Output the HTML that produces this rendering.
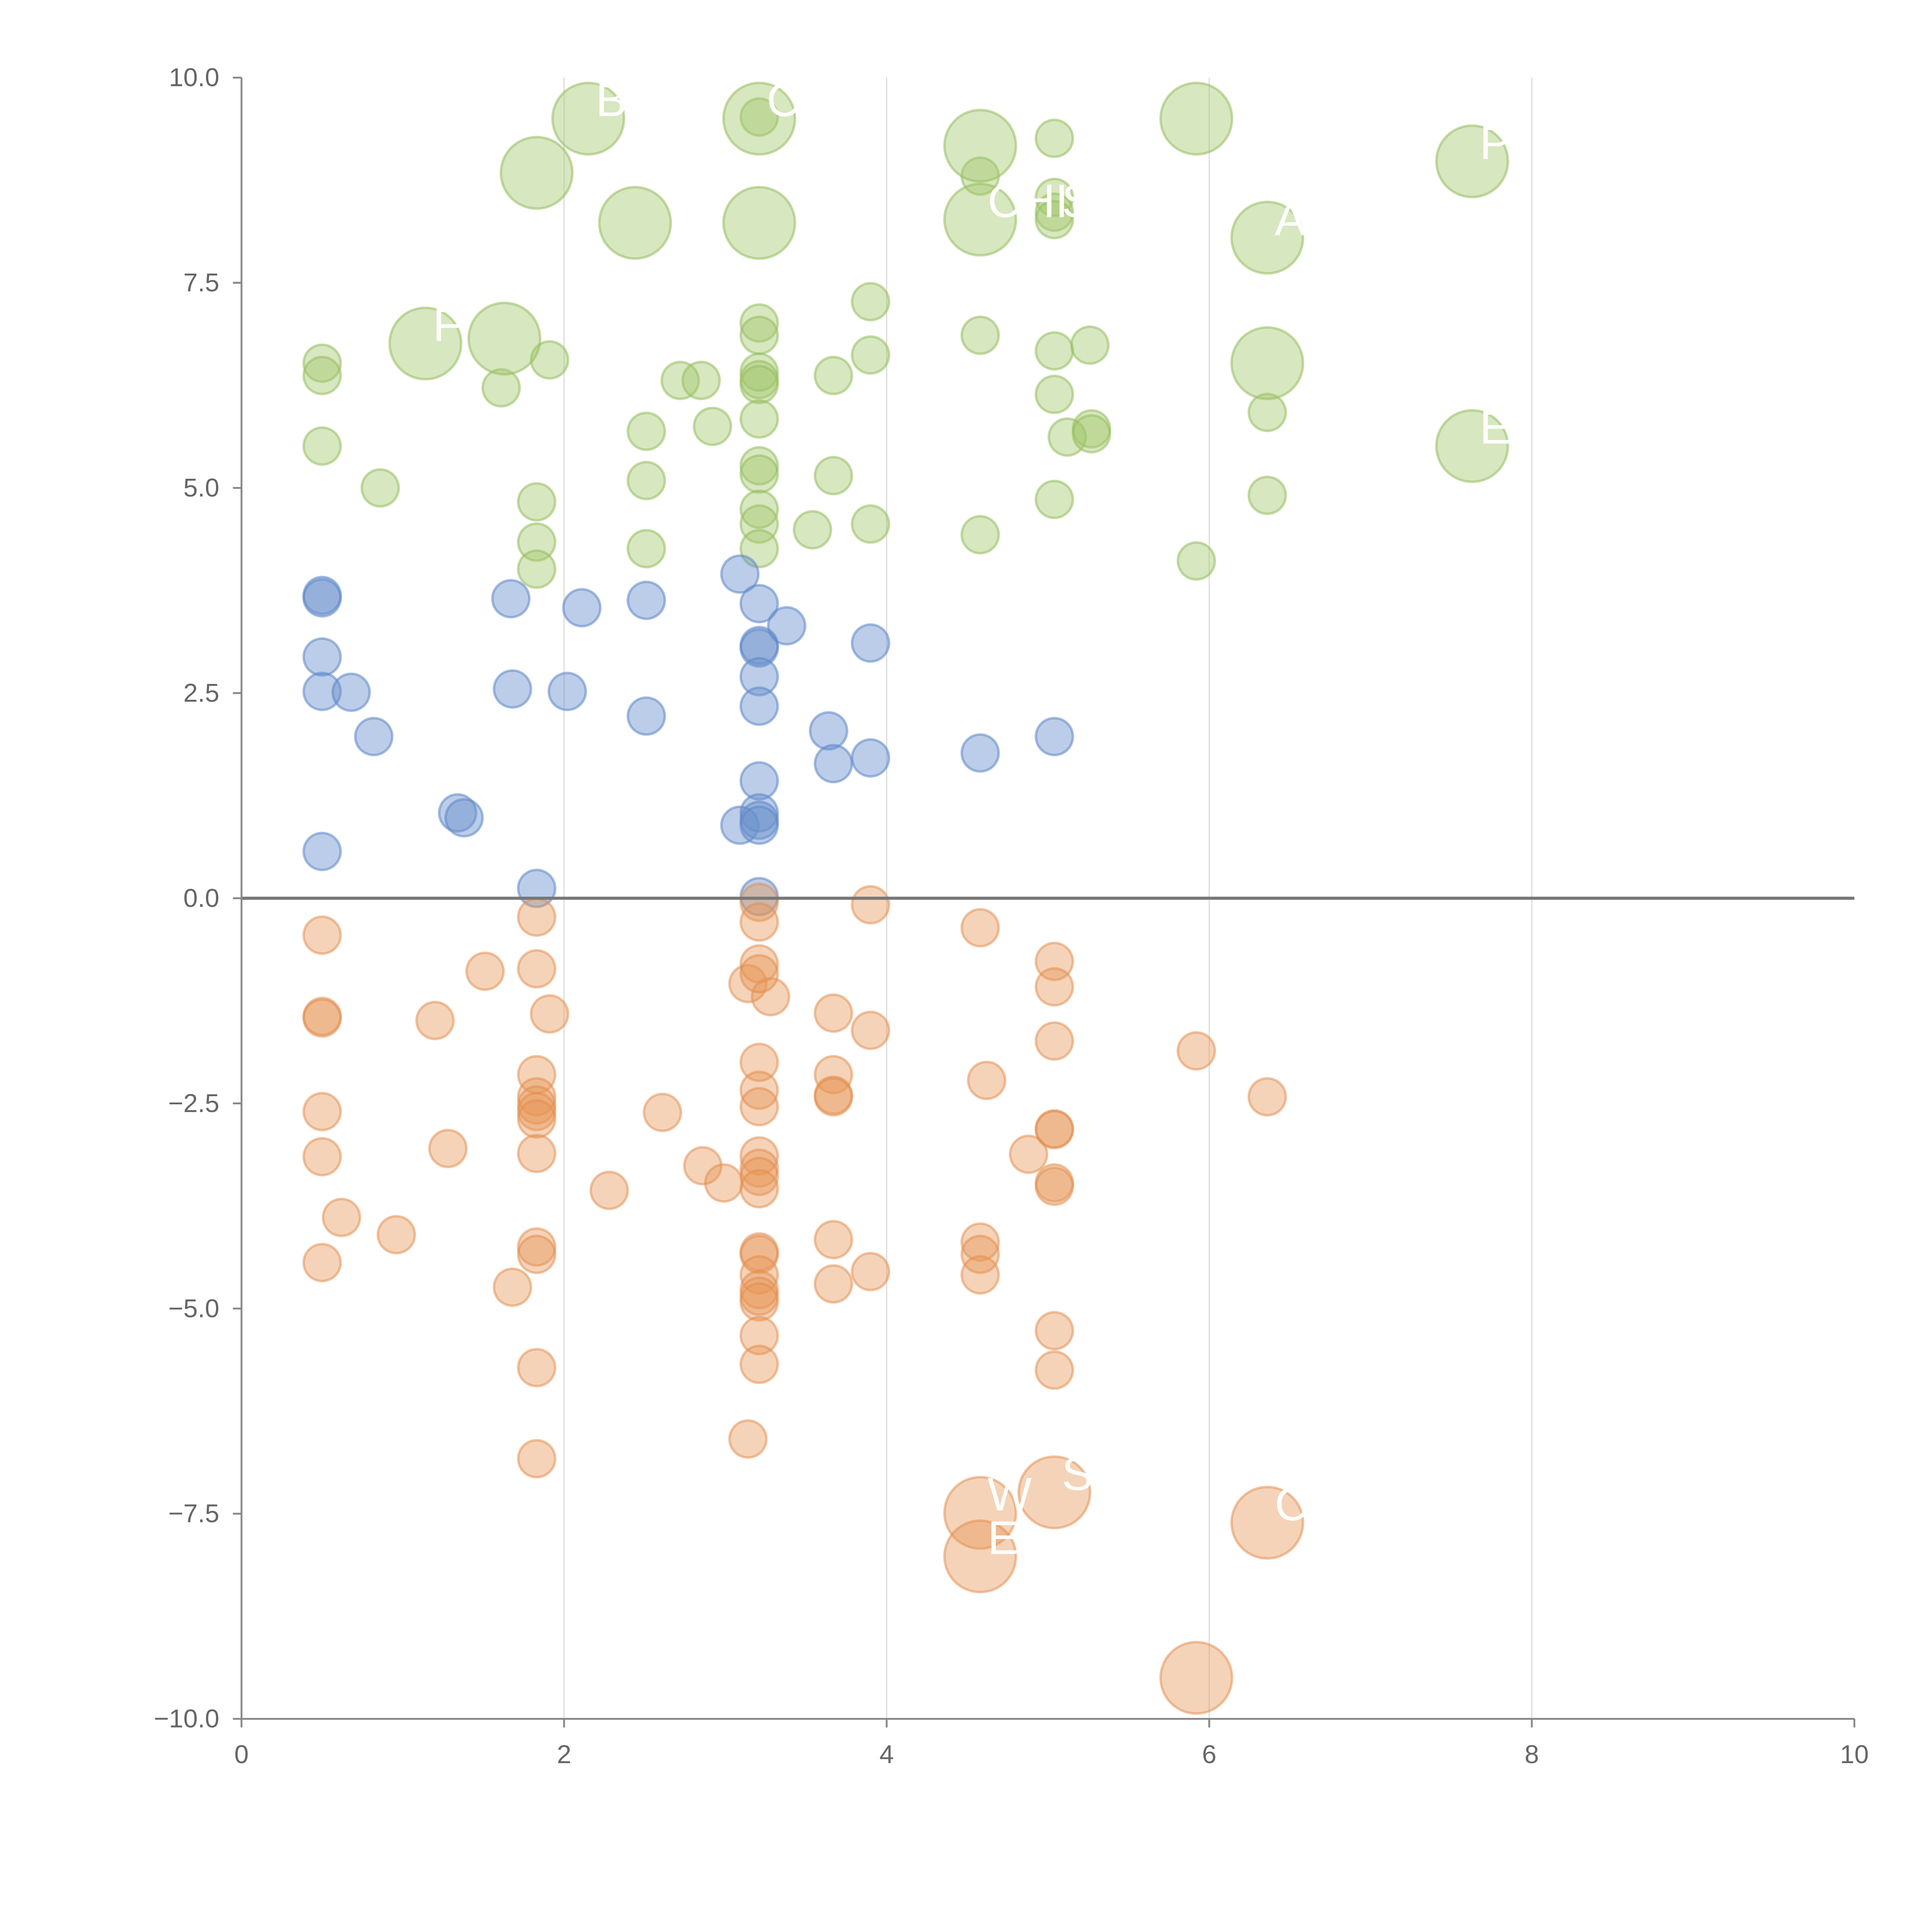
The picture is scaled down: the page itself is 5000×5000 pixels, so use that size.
<!DOCTYPE html>
<html><head><meta charset="utf-8"><style>
html,body{margin:0;padding:0;background:#fff}
svg{display:block}
text{font-family:"Liberation Sans",sans-serif}
</style></head><body>
<svg id="chart" width="5000" height="5000" viewBox="0 0 1568 1568" xmlns="http://www.w3.org/2000/svg">
<g id="grid"></g>
<g id="marks"></g>
<g id="axes"></g>
</svg>
<script>
const xTicks=[0,2,4,6,8,10];
const yTicks=[10,7.5,5,2.5,0,-2.5,-5,-7.5,-10];
const yTickLabels=["10.0","7.5","5.0","2.5","0.0","\u22122.5","\u22125.0","\u22127.5","\u221210.0"];

const greenX=[0.5,0.5,0.5,0.86,1.61,1.91,1.83,1.83,1.83,2.51,2.51,2.51,2.72,2.85,2.92,3.21,3.21,3.21,3.21,3.21,3.21,3.21,3.21,3.21,3.21,3.21,3.54,3.67,3.67,3.9,3.9,3.9,4.58,4.58,5.04,5.04,5.04,5.04,5.04,5.04,5.04,5.12,5.26,5.27,5.27,5.92,6.36,6.36,3.21,4.58];
const greenY=[6.52,6.37,5.51,5.0,6.22,6.56,4.83,4.34,4.01,5.69,5.09,4.26,6.31,6.31,5.75,7.01,6.86,6.41,6.32,6.26,5.84,5.27,5.17,4.74,4.56,4.26,4.49,6.37,5.15,7.27,6.62,4.56,6.86,4.43,9.26,8.54,8.36,8.27,6.67,6.14,4.86,5.62,6.74,5.72,5.66,4.11,5.92,4.91,9.52,8.8];
const greenBigX=[1.83,2.15,3.21,2.44,3.21,4.58,4.58,5.92,7.63,6.36,1.14,1.63,6.36,7.63];
const greenBigY=[8.84,9.5,9.5,8.23,8.23,9.17,8.27,9.5,8.98,8.05,6.76,6.82,6.52,5.51];

const blueX=[0.5,0.5,0.5,0.5,0.68,0.82,1.67,1.68,2.11,2.02,2.51,2.51,3.09,3.21,3.38,3.21,3.21,3.21,3.21,3.9,3.64,3.67,3.9,4.58,5.04,1.34,1.38,0.5,3.21,3.09,3.21,3.21,3.21,1.83,3.21];
const blueY=[3.69,3.66,2.94,2.52,2.51,1.97,3.65,2.55,3.54,2.52,3.63,2.22,3.95,3.59,3.32,3.08,3.05,2.7,2.34,3.11,2.04,1.64,1.71,1.77,1.97,1.04,0.98,0.57,1.43,0.89,1.04,0.95,0.89,0.12,0.02];

const orangeX=[0.5,0.5,0.5,0.5,0.5,0.62,0.5,0.96,1.2,1.51,1.28,1.68,1.83,1.83,1.91,1.83,1.83,1.83,1.83,1.83,1.83,1.83,1.83,1.83,1.83,2.28,2.61,2.86,2.99,3.14,3.28,3.21,3.21,3.21,3.21,3.21,3.21,3.21,3.21,3.21,3.21,3.21,3.21,3.21,3.21,3.21,3.21,3.21,3.21,3.21,3.14,3.9,3.9,3.67,3.67,3.67,3.67,3.67,3.67,3.9,4.58,4.62,4.88,5.04,5.04,5.04,5.04,5.04,5.04,5.04,5.04,5.04,4.58,4.58,4.58,5.92,6.36];
const orangeY=[-0.45,-1.44,-1.46,-2.6,-3.15,-3.89,-4.44,-4.1,-1.49,-0.89,-3.05,-4.74,-0.23,-0.86,-1.41,-2.15,-2.42,-2.52,-2.6,-2.69,-3.11,-4.25,-4.34,-5.72,-6.83,-3.56,-2.61,-3.26,-3.47,-1.04,-1.2,-0.05,-0.29,-0.8,-0.92,-2.0,-2.34,-2.54,-3.14,-3.29,-3.39,-3.54,-4.31,-4.34,-4.59,-4.77,-4.85,-4.92,-5.33,-5.68,-6.59,-0.08,-1.61,-1.4,-2.15,-2.4,-2.42,-4.16,-4.7,-4.55,-0.36,-2.22,-3.12,-0.77,-1.08,-1.74,-2.81,-2.82,-3.47,-3.51,-5.27,-5.75,-4.19,-4.34,-4.59,-1.86,-2.42];
const orangeBigX=[4.58,4.58,5.04,6.36,5.92];
const orangeBigY=[-7.49,-8.02,-7.24,-7.61,-9.5];

const labelText=["BR","CHI","CHI","S","A","P","E","F","W","S","C","E"];
const labelX=[2.15,3.21,4.58,5.04,6.36,7.63,7.63,1.14,4.58,5.04,6.36,4.58];
const labelY=[9.5,9.5,8.27,8.27,8.05,8.98,5.51,6.76,-7.49,-7.24,-7.61,-8.02];

const X0=196,X1=1505,Y0=1395,Y1=63;
const sx=v=>X0+(v-0)/(10-0)*(X1-X0);
const sy=v=>Y0-(v+10)/20*(Y0-Y1);
const NS="http://www.w3.org/2000/svg";
function mk(tag,attrs,parent){const e=document.createElementNS(NS,tag);for(const k in attrs)e.setAttribute(k,attrs[k]);parent.appendChild(e);return e;}
const grid=document.getElementById('grid'),marks=document.getElementById('marks'),axes=document.getElementById('axes');

xTicks.forEach(t=>{if(t>0&&t<10){const l=mk('line',{x1:sx(t),x2:sx(t),y1:Y1,y2:Y0,stroke:'#dddddd','stroke-width':1},grid);

}});

function series(xs,ys,r,fill,stroke,name){
  xs.forEach((x,i)=>{const c=mk('circle',{cx:sx(x),cy:sy(ys[i]),r:r,fill:fill,stroke:stroke,'stroke-width':2},marks);
  
  });
}
const GF='rgba(160,197,105,0.42)',GS='rgba(150,190,95,0.55)';
const BF='rgba(105,145,205,0.45)',BS='rgba(95,135,200,0.55)';
const OF='rgba(230,150,85,0.42)',OS='rgba(225,140,75,0.5)';
series(greenX,greenY,15,GF,GS,'green-bubble');
series(greenBigX,greenBigY,29,GF,GS,'green-big-bubble');
series(blueX,blueY,15,BF,BS,'blue-bubble');
series(orangeX,orangeY,15,OF,OS,'orange-bubble');
series(orangeBigX,orangeBigY,29,OF,OS,'orange-big-bubble');

labelText.forEach((s,i)=>{const t=mk('text',{x:sx(labelX[i])+6,y:sy(labelY[i])-2,fill:'#ffffff','font-size':38},marks);t.textContent=s;

});

const zl=mk('line',{x1:X0,x2:X1,y1:sy(0),y2:sy(0),stroke:'#777','stroke-width':2.5},axes);


const xa=mk('line',{x1:X0,x2:X1,y1:Y0,y2:Y0,stroke:'#888','stroke-width':1.5},axes);


const ya=mk('line',{x1:X0,x2:X0,y1:Y1,y2:Y0,stroke:'#888','stroke-width':1.5},axes);


xTicks.forEach(t=>{mk('line',{x1:sx(t),x2:sx(t),y1:Y0,y2:Y0+7,stroke:'#888','stroke-width':1.5},axes);
const tx=mk('text',{x:sx(t),y:Y0+36,'text-anchor':'middle',fill:'#666','font-size':21},axes);tx.textContent=t;

});
yTicks.forEach((t,i)=>{mk('line',{x1:X0-7,x2:X0,y1:sy(t),y2:sy(t),stroke:'#888','stroke-width':1.5},axes);
const tx=mk('text',{x:X0-18,y:sy(t)+7,'text-anchor':'end',fill:'#666','font-size':21},axes);tx.textContent=yTickLabels[i];

});
</script>
</body></html>
